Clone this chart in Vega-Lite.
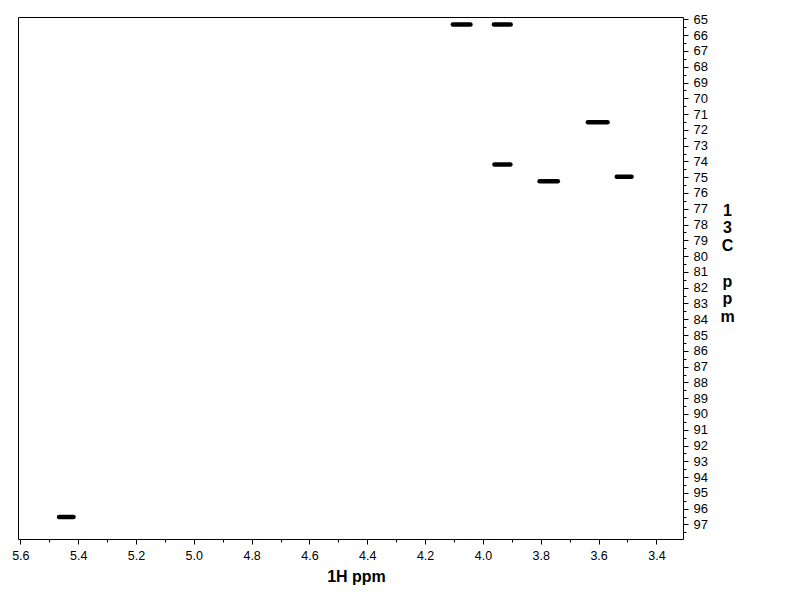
{
  "$schema": "https://vega.github.io/schema/vega-lite/v6.json",
  "width": 665,
  "height": 522,
  "autosize": {"type": "none"},
  "padding": {"left": 18, "top": 17, "right": 109, "bottom": 73},
  "background": "white",
  "config": {
    "view": {"stroke": "black", "strokeWidth": 1},
    "font": "Liberation Sans",
    "axis": {"grid": false, "domainColor": "black", "tickColor": "black", "labelColor": "black", "titleColor": "black", "labelFont": "Liberation Sans", "titleFont": "Liberation Sans"}
  },
  "data": {"values": [
    {"h_start": 4.104, "h_end": 4.043, "c": 65.33},
    {"h_start": 3.962, "h_end": 3.904, "c": 65.33},
    {"h_start": 3.637, "h_end": 3.569, "c": 71.52},
    {"h_start": 3.804, "h_end": 3.741, "c": 75.25},
    {"h_start": 3.537, "h_end": 3.486, "c": 74.97},
    {"h_start": 3.960, "h_end": 3.905, "c": 74.20},
    {"h_start": 5.466, "h_end": 5.416, "c": 96.53}
  ]},
  "resolve": {"axis": {"x": "independent", "y": "independent"}},
  "layer": [
    {
      "mark": {"type": "rule", "color": "black", "strokeWidth": 4.5, "strokeCap": "round"},
      "encoding": {
        "x": {"field": "h_start", "type": "quantitative",
          "scale": {"domain": [3.308, 5.608], "reverse": true, "nice": false, "zero": false},
          "axis": {"orient": "bottom", "values": [3.4, 3.6, 3.8, 4.0, 4.2, 4.4, 4.6, 4.8, 5.0, 5.2, 5.4, 5.6], "format": ".1f", "tickSize": 5, "labelPadding": 5, "labelFontSize": 12.5, "labelFlush": false, "domain": false, "title": "1H ppm", "titleFontSize": 16, "titleFontWeight": "bold", "titleX": 338, "titleY": 37, "titleBaseline": "middle", "titleAlign": "center"}},
        "x2": {"field": "h_end"},
        "y": {"field": "c", "type": "quantitative",
          "scale": {"domain": [64.85, 97.92], "reverse": true, "nice": false, "zero": false},
          "axis": {"orient": "right", "values": [65,66,67,68,69,70,71,72,73,74,75,76,77,78,79,80,81,82,83,84,85,86,87,88,89,90,91,92,93,94,95,96,97], "tickSize": 5, "labelPadding": 5, "labelFontSize": 13, "labelFlush": false, "labelOverlap": false, "domain": false,
            "title": ["1", "3", "C"], "titleFontSize": 16, "titleFontWeight": "bold", "titleAngle": 0, "titleLineHeight": 17.5, "titleX": 44, "titleY": 193, "titleBaseline": "middle", "titleAlign": "center"}}
      }
    },
    {
      "mark": {"type": "point", "opacity": 0},
      "encoding": {
        "x": {"field": "h_start", "type": "quantitative",
          "axis": {"orient": "bottom", "values": [3.5, 3.7, 3.9, 4.1, 4.3, 4.5, 4.7, 4.9, 5.1, 5.3, 5.5], "tickSize": 3, "labels": false, "domain": false, "title": null}},
        "y": {"field": "c", "type": "quantitative",
          "axis": {"orient": "right", "values": [65.5,66.5,67.5,68.5,69.5,70.5,71.5,72.5,73.5,74.5,75.5,76.5,77.5,78.5,79.5,80.5,81.5,82.5,83.5,84.5,85.5,86.5,87.5,88.5,89.5,90.5,91.5,92.5,93.5,94.5,95.5,96.5,97.5], "tickSize": 3, "labels": false, "domain": false,
            "title": ["p", "p", "m"], "titleFontSize": 16, "titleFontWeight": "bold", "titleAngle": 0, "titleLineHeight": 17.5, "titleX": 44, "titleY": 264, "titleBaseline": "middle", "titleAlign": "center"}}
      }
    }
  ]
}
